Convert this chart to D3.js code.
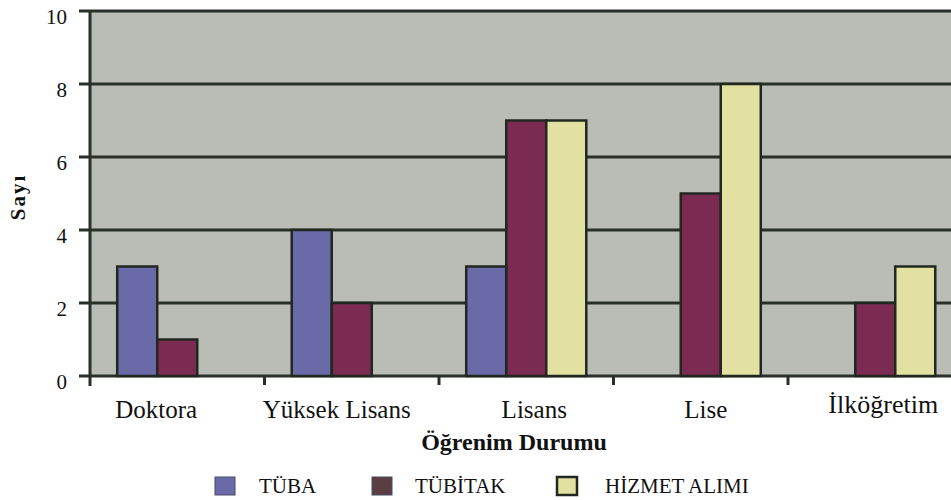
<!DOCTYPE html>
<html>
<head>
<meta charset="utf-8">
<script src="https://cdn.jsdelivr.net/npm/d3@7"></script>
<style>
  body { margin: 0; background: #fff; }
</style>
</head>
<body>
<svg id="chart" width="951" height="500"></svg>
<script>
const categories = ["Doktora", "Yüksek Lisans", "Lisans", "Lise", "İlköğretim"]
const seriesNames = ["TÜBA", "TÜBİTAK", "HİZMET ALIMI"]
const tuba = [3, 4, 3, 0, 0]
const tubitak = [1, 2, 7, 5, 2]
const hizmet = [0, 0, 7, 8, 3]
const yTicks = [0, 2, 4, 6, 8, 10]

const colors = ["#6a6aa8", "#7b2a52", "#e2e1a2"]
const legendColors = ["#6a6aa8", "#5a3e44", "#e2e1a2"]
const seriesValues = [tuba, tubitak, hizmet]
const FONT = "Liberation Serif"

// the scanned labels sit a little off their band centres
const labelDx = [-21, -15, 8, 5, 8]

const margin = {top: 11, left: 90, bottom: 124}
const height = 500 - margin.top - margin.bottom
const bandWidth = 174.5
const plotW = bandWidth * categories.length

const svg = d3.select("#chart")

const x = d3.scaleBand()
	.domain(categories)
	.range([margin.left, margin.left + plotW])
	.paddingInner(0)
	.paddingOuter(0)

const xs = d3.scaleBand()
	.domain(seriesNames)
	.range([0, x.bandwidth()])
	.paddingInner(0)
	.paddingOuter(0.68)

const y = d3.scaleLinear()
	.domain([0, 10])
	.range([margin.top + height, margin.top])

// plot background
svg.append("rect")
	.attr("x", margin.left)
	.attr("y", margin.top)
	.attr("width", plotW)
	.attr("height", height)
	.attr("fill", "#babdb5")

// gridlines
svg.append("g")
	.selectAll("line")
	.data(yTicks)
	.enter()
	.append("line")
		.attr("x1", margin.left - 11)
		.attr("x2", margin.left + plotW)
		.attr("y1", d => y(d))
		.attr("y2", d => y(d))
		.attr("stroke", "#283028")
		.attr("stroke-width", 3)

// bars
const rows = []
categories.forEach((c, i) => {
	seriesNames.forEach((s, j) => {
		if (seriesValues[j][i] > 0) rows.push({c, s, j, v: seriesValues[j][i]})
	})
})

svg.append("g")
	.selectAll("rect")
	.data(rows)
	.enter()
	.append("rect")
		.attr("x", d => x(d.c) + xs(d.s))
		.attr("y", d => y(d.v))
		.attr("width", xs.bandwidth())
		.attr("height", d => y(0) - y(d.v))
		.attr("fill", d => colors[d.j])
		.attr("stroke", "#202820")
		.attr("stroke-width", 2.5)

// left axis line
svg.append("line")
	.attr("x1", margin.left).attr("x2", margin.left)
	.attr("y1", y(10)).attr("y2", y(0) + 10)
	.attr("stroke", "#283028")
	.attr("stroke-width", 3)

// x ticks at category boundaries
svg.append("g")
	.selectAll("line")
	.data(categories.slice(1))
	.enter()
	.append("line")
		.attr("x1", d => x(d)).attr("x2", d => x(d))
		.attr("y1", y(0)).attr("y2", y(0) + 9)
		.attr("stroke", "#283028")
		.attr("stroke-width", 3)

// y tick labels
svg.append("g")
	.selectAll("text")
	.data(yTicks)
	.enter()
	.append("text")
		.attr("x", 67)
		.attr("y", d => y(d) + 6)
		.attr("dy", "0.35em")
		.attr("text-anchor", "end")
		.attr("fill", "#111")
		.attr("font-family", FONT)
		.attr("font-size", 21)
		.text(d => d)

// category labels
svg.append("g")
	.selectAll("text")
	.data(categories)
	.enter()
	.append("text")
		.attr("x", (d, i) => x(d) + x.bandwidth() / 2 + labelDx[i])
		.attr("y", (d, i) => i === 4 ? 413 : 418)
		.attr("text-anchor", "middle")
		.attr("fill", "#111")
		.attr("font-family", FONT)
		.attr("font-size", (d, i) => i === 4 ? 26 : 25)
		.text(d => d)

// axis titles
svg.append("text")
	.attr("x", 514)
	.attr("y", 450)
	.attr("text-anchor", "middle")
	.attr("fill", "#111")
	.attr("font-family", FONT)
	.attr("font-size", 24)
	.attr("font-weight", "bold")
	.text("Öğrenim Durumu")

svg.append("text")
	.attr("transform", "translate(25,197) rotate(-90)")
	.attr("text-anchor", "middle")
	.attr("fill", "#111")
	.attr("font-family", FONT)
	.attr("font-size", 21)
	.attr("font-weight", "bold")
	.attr("letter-spacing", 2)
	.text("Sayı")

// legend
const legendX = [215, 372, 557]
const legendTextDx = [44, 43, 48]
const legend = svg.append("g")
	.selectAll("g")
	.data(seriesNames)
	.enter()
	.append("g")
		.attr("transform", (d, i) => `translate(${legendX[i]},477)`)

legend.append("rect")
	.attr("width", 20)
	.attr("height", 18)
	.attr("fill", (d, i) => legendColors[i])
	.attr("stroke", (d, i) => i === 2 ? "#202820" : "#4a4a60")
	.attr("stroke-width", (d, i) => i === 2 ? 2.5 : 1)

legend.append("text")
	.attr("x", (d, i) => legendTextDx[i])
	.attr("y", 16)
	.attr("fill", "#111")
	.attr("font-family", FONT)
	.attr("font-size", 21)
	.text(d => d)
</script>
</body>
</html>
